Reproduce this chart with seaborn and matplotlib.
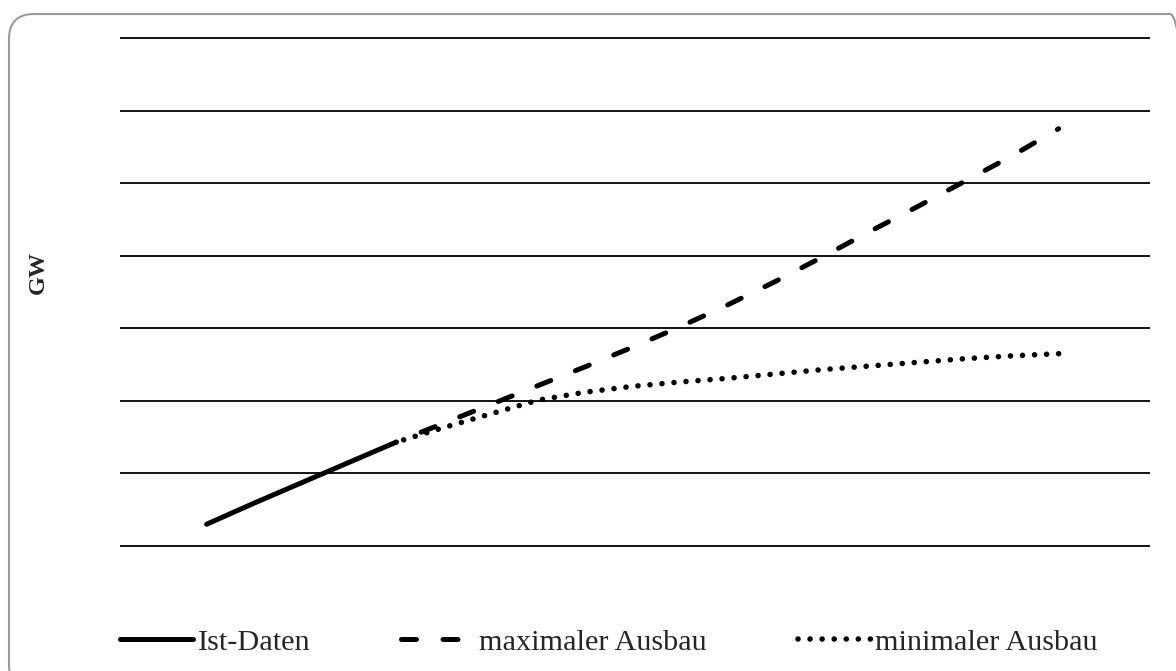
import matplotlib
matplotlib.use("Agg")
import matplotlib.pyplot as plt
import numpy as np
import pandas as pd
import seaborn as sns
from matplotlib.lines import Line2D
from matplotlib.patches import FancyBboxPatch
from matplotlib.transforms import IdentityTransform

# ---------------- data ----------------
ist_years = [2012, 2013, 2014, 2015, 2016]
ist_values = [3.0, 5.9, 8.7, 11.5, 14.3]

proj_years = [2016, 2017, 2018, 2019, 2020, 2021, 2022, 2023,
              2024, 2025, 2026, 2027, 2028, 2029, 2030]
max_values = [14.3, 16.9, 19.5, 22.1, 24.7, 27.4, 30.2, 33.2,
              36.4, 39.8, 43.3, 46.7, 50.2, 53.7, 57.5]
min_values = [14.3, 16.3, 18.2, 20.1, 21.2, 22.0, 22.6, 23.1,
              23.7, 24.3, 24.8, 25.3, 25.8, 26.2, 26.5]

series_labels = ["Ist-Daten", "maximaler Ausbau", "minimaler Ausbau"]
y_ticks = [0, 10, 20, 30, 40, 50, 60, 70]
y_label = "GW"

# ---------------- styling ----------------
sns.set_theme(style="white")
plt.rcParams['font.family'] = ['Liberation Serif', 'DejaVu Serif']

W, H = 1176, 671
DPI = 100
fig = plt.figure(figsize=(W / DPI, H / DPI), dpi=DPI)
fig.patch.set_facecolor("white")

ax_left, ax_right = 120, 1150
y_top_px, y_bot_px = 30.74, 553.26
ax = fig.add_axes([ax_left / W, 1 - y_bot_px / H,
                   (ax_right - ax_left) / W, (y_bot_px - y_top_px) / H])
ax.set_facecolor("white")
ax.set_xlim(2010.17, 2031.93)
ax.set_ylim(-1, 71)

df_ist = pd.DataFrame({"Jahr": ist_years, "GW": ist_values})
df_max = pd.DataFrame({"Jahr": proj_years, "GW": max_values})
df_min = pd.DataFrame({"Jahr": proj_years, "GW": min_values})


def path_len_pt(xs, ys):
    pts = ax.transData.transform(np.column_stack([xs, ys]))
    d = np.sqrt((np.diff(pts, axis=0) ** 2).sum(axis=1)).sum()
    return d * 72.0 / DPI


def end_aligned(xs, ys, on, off, lw, end_phase):
    # offset so that the pattern ends shortly inside an "on" segment
    L = path_len_pt(xs, ys) / lw
    P = on + off
    offset = (end_phase - L) % P
    return (offset, (on, off))


lw_solid = 3.6
lw_dash = 3.6
lw_dot = 4.0
dash_on, dash_off = 3.0, 5.3
dot_on, dot_off = 0.01, 2.16

sns.lineplot(data=df_ist, x="Jahr", y="GW", ax=ax, color="black", lw=lw_solid,
             solid_capstyle="round", zorder=3, legend=False)
sns.lineplot(data=df_min, x="Jahr", y="GW", ax=ax, color="black", lw=lw_dot,
             linestyle=end_aligned(proj_years, min_values, dot_on, dot_off,
                                   lw_dot, 0.005),
             dash_capstyle="round", zorder=3, legend=False)
sns.lineplot(data=df_max, x="Jahr", y="GW", ax=ax, color="black", lw=lw_dash,
             linestyle=end_aligned(proj_years, max_values, dash_on, dash_off,
                                   lw_dash, 0.3),
             dash_capstyle="round", zorder=4, legend=False)

ax.set_xlim(2010.17, 2031.93)
ax.set_ylim(-1, 71)
ax.set_yticks(y_ticks)
ax.yaxis.grid(True, color="black", lw=1.3)
ax.xaxis.grid(False)
ax.tick_params(left=False, bottom=False, labelleft=False, labelbottom=False)
for s in ax.spines.values():
    s.set_visible(False)
ax.set_xlabel("")
ax.set_ylabel("")

fig.text(38.5 / W, 1 - 272.5 / H, y_label, rotation=90, ha="center",
         va="center", fontsize=17.5, fontweight="bold",
         family=["Liberation Serif", "DejaVu Serif"])

# legend (style keys for the three series)
handles = [
    Line2D([], [], color="black", lw=lw_solid, solid_capstyle="round"),
    Line2D([], [], color="black", lw=lw_dash,
           linestyle=(0, (dash_on, dash_off)), dash_capstyle="round"),
    Line2D([], [], color="black", lw=lw_dot,
           linestyle=(0, (dot_on, dot_off)), dash_capstyle="round"),
]
fig.legend(handles, series_labels, loc="center left",
           bbox_to_anchor=(120 / W, 1 - 642 / H), ncol=3, frameon=False,
           fontsize=21.8, handlelength=2.42, handletextpad=0.15,
           columnspacing=3.0, borderpad=0, borderaxespad=0)

# rounded border of the chart area
border = FancyBboxPatch((9, H - 690), 1186, 676,
                        boxstyle="round,pad=0,rounding_size=25",
                        transform=IdentityTransform(), fill=False,
                        edgecolor="#9a9a9a", lw=1.5)
fig.add_artist(border)

fig.savefig("out.png", dpi=DPI)
